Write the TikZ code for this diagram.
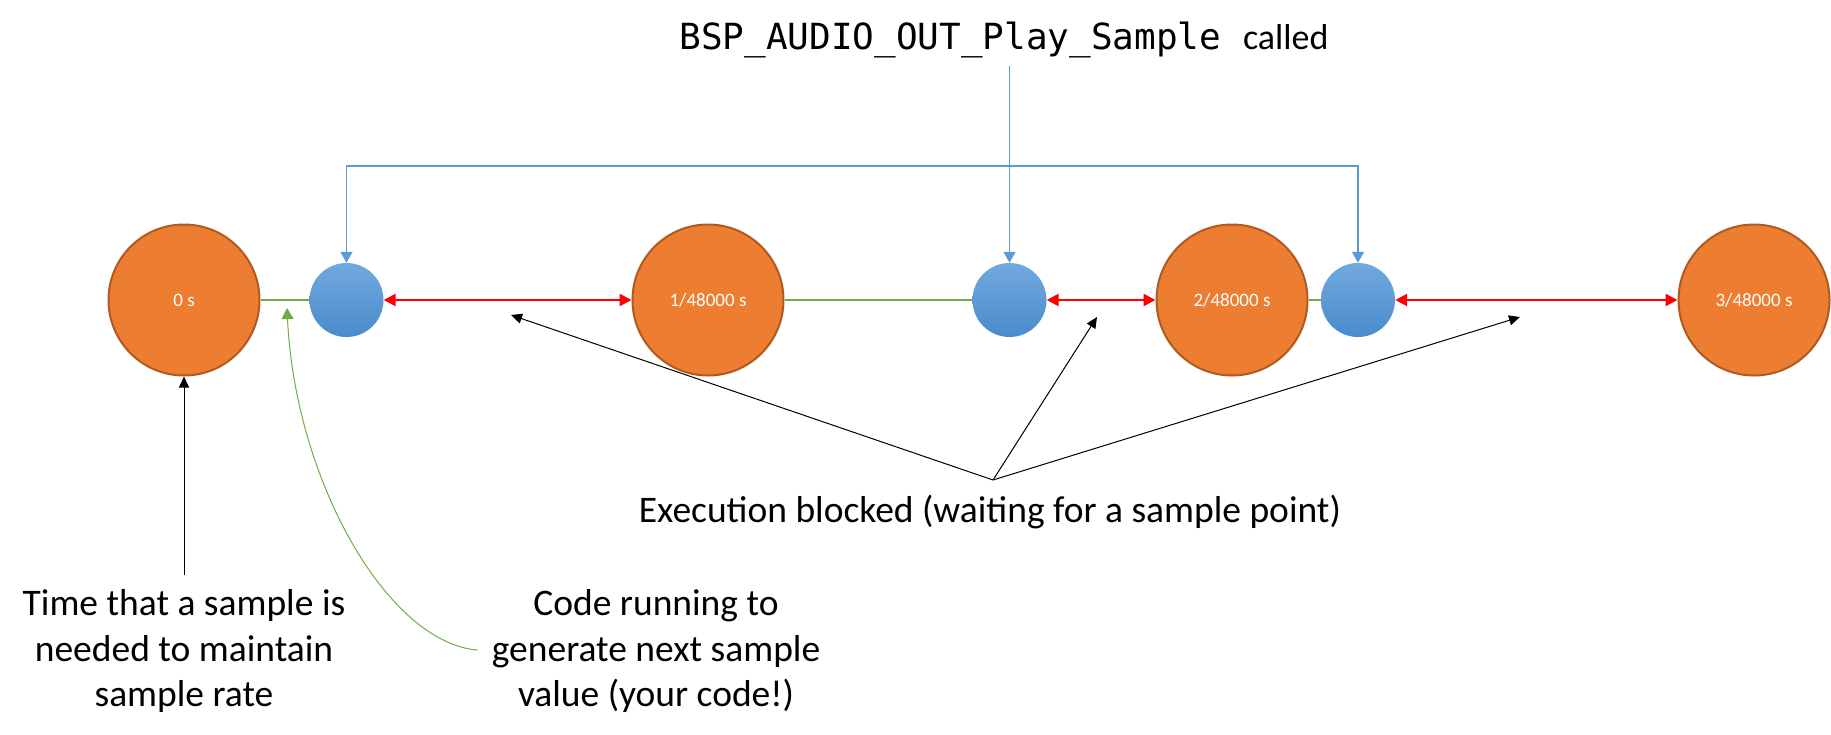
\documentclass[tikz,border=0pt]{standalone}
\usepackage{fontspec}
\setmainfont{Carlito}
\setmonofont{DejaVu Sans Mono}
\usetikzlibrary{arrows.meta,positioning}
\definecolor{tickfill}{HTML}{ED7D31}
\definecolor{tickline}{HTML}{AE5A21}
\definecolor{calltop}{HTML}{71A9DE}
\definecolor{callbot}{HTML}{4A8BCC}
\definecolor{callline}{HTML}{5B9BD5}
\definecolor{runline}{HTML}{70AD47}
\tikzset{
    redtip/.tip={Triangle[length=12pt,width=12pt]},
    bluetip/.tip={Triangle[length=11pt,width=12pt]},
    blacktip/.tip={Triangle[length=11pt,width=10pt]},
    tick/.style={
           circle,
           fill=tickfill, draw=tickline, line width=2pt,
           minimum size=151pt,
           inner sep=0pt,
           text=white,
           font=\fontsize{19}{23}\selectfont
           },
    call/.style={
           circle,
           top color=calltop, bottom color=callbot, draw=none,
           minimum size=74pt
           },
    note/.style={
           align=center,
           inner sep=2pt,
           font=\fontsize{37.5}{45.5}\selectfont
           },
    link/.style={draw=runline, line width=1.5pt},
    gap/.style={draw=red, line width=2.5pt, redtip-redtip},
    callto/.style={draw=callline, line width=1.3pt},
    waitto/.style={draw=black, line width=1pt, -blacktip},
    runto/.style={draw=runline, line width=1pt, -bluetip}
}
\begin{document}
\begin{tikzpicture}[x=1pt, y=-1pt, node distance=524pt, on grid]
   \useasboundingbox (0,0) rectangle (1831,734);
   % sample points
   \node[tick] (t0) at (184,300) {0 s};
   \node[tick] (t1) [right=of t0] {1/48000 s};
   \node[tick] (t2) [right=of t1] {2/48000 s};
   \node[tick] (t3) [right=522pt of t2] {3/48000 s};
   % calls
   \node[call] (c1) [right=162.5pt of t0] {};
   \node[call] (c2) [right=301.5pt of t1] {};
   \node[call] (c3) [right=126pt of t2] {};
   % texts
   \node[note] (title) at (1004,40) {\fontsize{36}{44}\selectfont\texttt{BSP\_AUDIO\_OUT\_Play\_Sample }called};
   \node[note] (need) at (184,651) {Time that a sample is\\needed to maintain\\sample rate};
   \node[note] (code) [right=472pt of need] {Code running to\\generate next sample\\value (your code!)};
   \node[note] (block) at (990,512) {Execution blocked (waiting for a sample point)};
   \coordinate (bar) at (1009,166);
   \coordinate (run) at (287,308);
   \coordinate (blk) at (993,480);
   \coordinate (w1) at (511,315);
   \coordinate (w2) at (1097,317);
   \coordinate (w3) at (1520,317);
   % timeline
   \draw[link] (t0) -- (c1);
   \draw[link] (t1) -- (c2);
   \draw[link] (t2) -- (c3);
   \draw[gap] (c1) -- (t1);
   \draw[gap] (c2) -- (t2);
   \draw[gap] (c3) -- (t3);
   % calls of the function
   \draw[callto, bluetip-bluetip] (c1.north) -- (c1 |- bar) -- (c3 |- bar) -- (c3.north);
   \draw[callto, -bluetip, shorten <=6pt] (c2 |- title.south) -- (c2.north);
   % pointers
   \draw[waitto] (blk) -- (w1);
   \draw[waitto] (blk) -- (w2);
   \draw[waitto] (blk) -- (w3);
   \draw[waitto, shorten <=12pt] (need) -- (t0);
   \draw[runto, shorten <=12pt] (code.west) .. controls +(-102,-8) and +(8,172) .. (run);
\end{tikzpicture}
\end{document}
